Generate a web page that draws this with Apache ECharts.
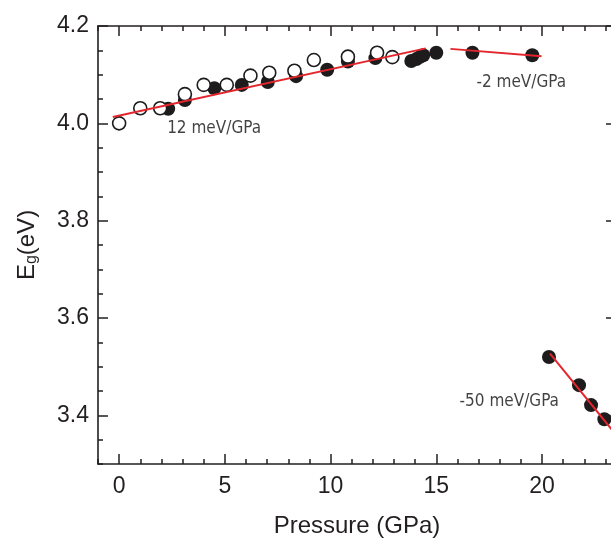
<!DOCTYPE html>
<html><head><meta charset="utf-8">
<script src="https://cdn.jsdelivr.net/npm/echarts@6/dist/echarts.min.js"></script>
<style>html,body{margin:0;padding:0;background:#fff}#c{width:611px;height:540px}</style>
</head><body><div id="c"></div>
<script>
// Open circles (pressure GPa, Eg eV)
const openX = [0, 1.0, 1.94, 3.11, 4.0, 5.09, 6.21, 7.1, 8.29, 9.21, 10.82, 12.2, 12.92];
const openY = [4.000, 4.031, 4.031, 4.060, 4.079, 4.079, 4.098, 4.104, 4.108, 4.130, 4.137, 4.145, 4.136];
// Filled circles
const fillX = [2.32, 3.11, 4.5, 5.8, 7.03, 8.37, 9.84, 10.82, 12.12, 13.82, 14.06, 14.25, 14.38, 15.0, 16.71, 19.54, 20.33, 21.75, 22.32, 22.95];
const fillY = [4.030, 4.048, 4.072, 4.079, 4.085, 4.097, 4.110, 4.127, 4.134, 4.128, 4.132, 4.137, 4.140, 4.145, 4.145, 4.140, 3.520, 3.462, 3.421, 3.392];
// Linear fits (endpoints)
const fit1X = [-0.3, 14.5];  const fit1Y = [4.013, 4.154];
const fit2X = [15.67, 19.98]; const fit2Y = [4.153, 4.138];
const fit3X = [20.38, 23.5]; const fit3Y = [3.527, 3.360];
// Annotations
const annoText = ['12 meV/GPa', '-2 meV/GPa', '-50 meV/GPa'];
const annoX = [2.27, 16.9, 16.1];
const annoY = [3.989, 4.083, 3.429];
// Ticks
const xTickLabels = [0, 5, 10, 15, 20];
const yTickLabels = [3.4, 3.6, 3.8, 4.0, 4.2];
const xMin = -1, xMax = 23.5, yMin = 3.3, yMax = 4.2;

const xMinor = []; for (let v = -1; v <= 23; v++) xMinor.push(v);
const yMinor = []; for (let i = 0; i <= 18; i++) yMinor.push(+(3.3 + i * 0.05).toFixed(2));

const zip = (a, b) => a.map((v, i) => [v, b[i]]);
const FONT = "'Liberation Sans', Arial, sans-serif";
const INK = '#231f20';

function xAx(pos, ticks, len, labels, line) {
  return {
    type: 'value', position: pos, min: xMin, max: xMax,
    axisLine: { show: line, onZero: false, lineStyle: { color: INK, width: 1.6 } },
    axisTick: { show: true, inside: true, length: len, customValues: ticks, lineStyle: { color: INK, width: 1.5 } },
    axisLabel: labels ? { show: true, customValues: ticks, margin: 11, color: INK, fontSize: 23, fontFamily: FONT } : { show: false },
    splitLine: { show: false }
  };
}
function yAx(pos, ticks, len, labels, line) {
  return {
    type: 'value', position: pos, min: yMin, max: yMax,
    axisLine: { show: line, onZero: false, lineStyle: { color: INK, width: 1.6 } },
    axisTick: { show: true, inside: true, length: len, customValues: ticks, lineStyle: { color: INK, width: 1.5 } },
    axisLabel: labels ? { show: true, customValues: ticks, margin: 9, color: INK, fontSize: 23, fontFamily: FONT, formatter: v => v.toFixed(1) } : { show: false },
    splitLine: { show: false }
  };
}

const xAxes = [
  Object.assign(xAx('bottom', xTickLabels, 10, true, true), {
    name: 'Pressure (GPa)', nameLocation: 'middle', nameGap: 50,
    nameTextStyle: { fontSize: 24, color: INK, fontFamily: FONT }
  }),
  xAx('bottom', xMinor, 5, false, false),
  xAx('top', xTickLabels, 10, false, true),
  xAx('top', xMinor, 5, false, false)
];
const yAxes = [
  Object.assign(yAx('left', yTickLabels, 10, true, true), {
    name: '{e|E}{s|g}{e|(eV)}', nameLocation: 'middle', nameGap: 56, nameRotate: 90,
    nameTextStyle: { color: INK, fontFamily: FONT, rich: {
      e: { fontSize: 24, color: INK, fontFamily: FONT, lineHeight: 30 },
      s: { fontSize: 16, color: INK, fontFamily: FONT, lineHeight: 30, padding: [0, 0, -10, 0] }
    } }
  }),
  yAx('left', yMinor, 5, false, false),
  yAx('right', yTickLabels, 10, false, true),
  yAx('right', yMinor, 5, false, false)
];

const fitStyle = { color: '#e3262d', width: 2 };
const chart = echarts.init(document.getElementById('c'), null, { renderer: 'canvas' });
chart.setOption({
  backgroundColor: '#fff',
  animation: false,
  grid: { left: 98, top: 26, right: -5, bottom: 76, containLabel: false, outerBoundsMode: 'none' },
  xAxis: xAxes,
  yAxis: yAxes,
  series: [
    { type: 'scatter', data: zip(fillX, fillY), symbol: 'circle', symbolSize: 14,
      itemStyle: { color: '#1d1b1c', borderColor: '#1d1b1c', borderWidth: 0, opacity: 1 }, z: 2 },
    { type: 'scatter', data: zip(openX, openY), symbol: 'circle', symbolSize: 13,
      itemStyle: { color: '#ffffff', borderColor: '#1d1b1c', borderWidth: 1.6, opacity: 1 }, z: 3 },
    { type: 'line', data: zip(fit1X, fit1Y), showSymbol: false, symbol: 'none', lineStyle: fitStyle, z: 4 },
    { type: 'line', data: zip(fit2X, fit2Y), showSymbol: false, symbol: 'none', lineStyle: fitStyle, z: 4 },
    { type: 'line', data: zip(fit3X, fit3Y), showSymbol: false, symbol: 'none', lineStyle: fitStyle, z: 4 },
    { type: 'scatter', symbolSize: 0, silent: true, z: 5,
      data: annoText.map((t, i) => ({ name: t, value: [annoX[i], annoY[i]] })),
      label: { show: true, position: 'right', distance: 0, formatter: '{b}', color: '#111', fontSize: 17,
        fontFamily: "'Liberation Sans Narrow', 'DejaVu Sans Condensed', 'Arial Narrow', sans-serif" } }
  ]
});
</script></body></html>
